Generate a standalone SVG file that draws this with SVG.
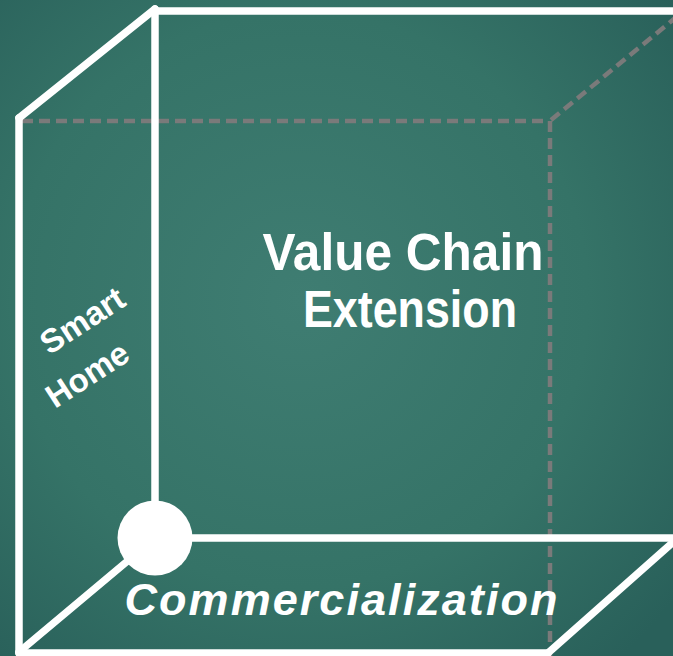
<svg xmlns="http://www.w3.org/2000/svg" width="673" height="656" viewBox="0 0 673 656">
  <defs>
    <radialGradient id="bg" cx="300" cy="300" r="480" gradientUnits="userSpaceOnUse">
      <stop offset="0" stop-color="#3f7d72"/>
      <stop offset="0.6" stop-color="#357367"/>
      <stop offset="1" stop-color="#29605a"/>
    </radialGradient>
    <style>
      .edge { stroke: #ffffff; stroke-width: 7.5; stroke-linecap: round; fill: none; }
      .hidden { stroke: #7a7a7a; stroke-width: 4.5; stroke-dasharray: 11 6; fill: none; }
      .lbl { fill: #ffffff; font-family: "Liberation Sans", Arial, sans-serif; font-weight: bold; text-anchor: middle; }
    </style>
  </defs>
  <rect x="0" y="0" width="673" height="656" fill="url(#bg)"/>

  <g id="connectors">
    <!-- hidden (dashed) edges -->
    <line class="hidden" x1="22" y1="121" x2="549" y2="121"/>
    <line class="hidden" x1="550" y1="121" x2="550" y2="656"/>
    <line class="hidden" x1="551" y1="120" x2="680" y2="14"/>
    <!-- back face -->
    <line class="edge" x1="155" y1="9" x2="155" y2="538"/>
    <line class="edge" x1="155" y1="11" x2="690" y2="11"/>
    <line class="edge" x1="155" y1="538" x2="690" y2="538"/>
    <!-- front face -->
    <line class="edge" x1="19" y1="118" x2="155" y2="9"/>
    <line class="edge" x1="19" y1="118" x2="19" y2="653"/>
    <line class="edge" x1="19" y1="653" x2="548" y2="653"/>
    <line class="edge" x1="19" y1="652" x2="155" y2="538"/>
    <line class="edge" x1="548" y1="653" x2="680" y2="536"/>
  </g>

  <g id="origin">
    <circle cx="155" cy="538" r="37.5" fill="#ffffff"/>
  </g>

  <g id="value-chain">
    <text class="lbl" x="403" y="270" font-size="51" textLength="281" lengthAdjust="spacingAndGlyphs">Value Chain</text>
    <text class="lbl" x="410" y="327" font-size="51" textLength="214" lengthAdjust="spacingAndGlyphs">Extension</text>
  </g>

  <g id="smart-home">
    <text class="lbl" font-size="33" transform="translate(82,320) rotate(-33)" y="12">Smart</text>
    <text class="lbl" font-size="33" transform="translate(87,374) rotate(-33)" y="12">Home</text>
  </g>

  <g id="commercialization">
    <text class="lbl" x="341" y="615" font-size="45" font-style="italic" textLength="433" lengthAdjust="spacing">Commercialization</text>
  </g>
</svg>
